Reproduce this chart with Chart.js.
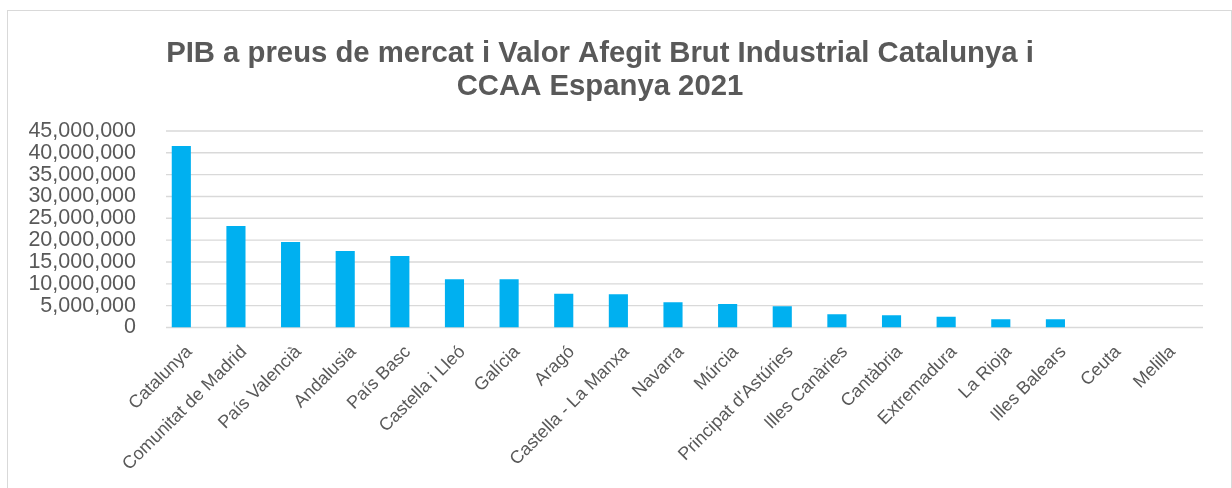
<!DOCTYPE html>
<html>
<head>
<meta charset="utf-8">
<script src="https://cdn.jsdelivr.net/npm/chart.js@4"></script>
<style>
  html, body { margin: 0; padding: 0; background: #fff; }
  #wrap { position: relative; width: 1232px; height: 488px; overflow: hidden; }
  #frame { position: absolute; left: 7px; top: 10px; width: 1223px; height: 500px; border: 1px solid #d9d9d9; pointer-events: none; }
  #chart { position: absolute; left: 0; top: 0; }
</style>
</head>
<body>
<div id="wrap">
  <div id="frame"></div>
  <canvas id="chart" width="1232" height="488"></canvas>
</div>
<script>
// Data
const regions = [
  'Catalunya', 'Comunitat de Madrid', 'País Valencià', 'Andalusia', 'País Basc',
  'Castella i Lleó', 'Galícia', 'Aragó', 'Castella - La Manxa', 'Navarra',
  'Múrcia', "Principat d'Astúries", 'Illes Canàries', 'Cantàbria', 'Extremadura',
  'La Rioja', 'Illes Balears', 'Ceuta', 'Melilla'
];
const vabValues = [
  41550000, 23250000, 19600000, 17500000, 16400000,
  11050000, 11050000, 7700000, 7600000, 5780000,
  5380000, 4850000, 3020000, 2800000, 2480000,
  1880000, 1880000, 0, 0
];
const titleLines = ['PIB a preus de mercat i Valor Afegit Brut Industrial Catalunya i', 'CCAA Espanya 2021'];

const textGrey = '#595959';
const gridGrey = '#d9d9d9';
const fontFamily = '"Liberation Sans", Arial, sans-serif';

// horizontal grid lines, a bit shifted to the right of the category band like the original
const gridPlugin = {
  id: 'shiftedGrid',
  beforeDatasetsDraw(chart) {
    const { ctx, chartArea, scales } = chart;
    ctx.save();
    ctx.strokeStyle = gridGrey;
    ctx.lineWidth = 1.4;
    scales.y.ticks.forEach(t => {
      const y = scales.y.getPixelForValue(t.value);
      ctx.beginPath();
      ctx.moveTo(chartArea.left + 12, y);
      ctx.lineTo(chartArea.right + 11, y);
      ctx.stroke();
    });
    ctx.restore();
  }
};

const ctx = document.getElementById('chart').getContext('2d');
new Chart(ctx, {
  type: 'bar',
  data: {
    labels: regions,
    datasets: [{
      label: 'VAB Industrial',
      data: vabValues,
      backgroundColor: '#00b0f0',
      borderWidth: 0,
      categoryPercentage: 1,
      barPercentage: 0.35
    }]
  },
  options: {
    responsive: false,
    animation: false,
    layout: { padding: { left: 8, right: 40, top: 0, bottom: 0 } },
    plugins: {
      legend: { display: false },
      tooltip: { enabled: false },
      title: {
        display: true,
        text: titleLines,
        color: textGrey,
        font: { family: fontFamily, size: 29.3, weight: 'bold', lineHeight: 1.126 },
        padding: { top: 37, bottom: 28 }
      }
    },
    scales: {
      x: {
        grid: { display: false },
        border: { display: false },
        ticks: {
          color: textGrey,
          font: { family: fontFamily, size: 18 },
          maxRotation: 45,
          minRotation: 45,
          autoSkip: false,
          labelOffset: 8,
          padding: 6
        },
        afterFit: scale => { scale.height = 160.5; }
      },
      y: {
        min: 0,
        max: 45000000,
        grid: { display: false },
        border: { display: false },
        ticks: {
          stepSize: 5000000,
          autoSkip: false,
          color: textGrey,
          font: { family: fontFamily, size: 21.5 },
          padding: 10,
          callback: v => v.toLocaleString('en-US')
        },
        afterFit: scale => { scale.width = 146; }
      }
    }
  },
  plugins: [gridPlugin]
});
</script>
</body>
</html>
